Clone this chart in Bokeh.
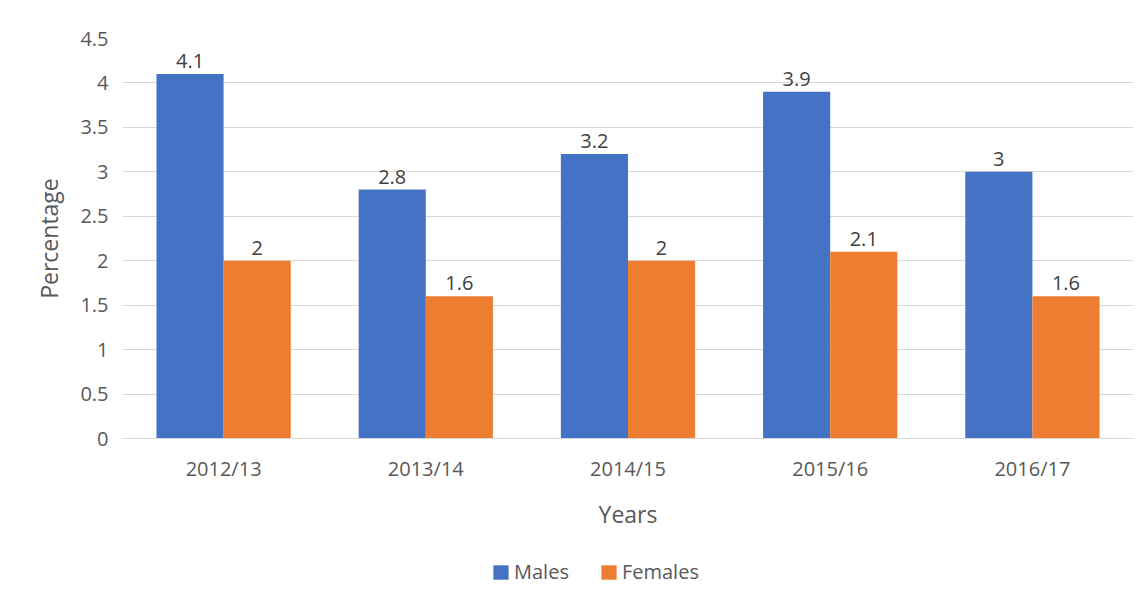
from bokeh.plotting import figure
from bokeh.layouts import column
from bokeh.models import ColumnDataSource, Legend, LegendItem, LabelSet, Range1d, FixedTicker, CustomJSTickFormatter
from bokeh.core.properties import value
from bokeh.transform import dodge
from bokeh.embed import file_html
from bokeh.resources import INLINE

years = ["2012/13", "2013/14", "2014/15", "2015/16", "2016/17"]
males = [4.1, 2.8, 3.2, 3.9, 3.0]
females = [2.0, 1.6, 2.0, 2.1, 1.6]
male_labels = ["4.1", "2.8", "3.2", "3.9", "3"]
female_labels = ["2", "1.6", "2", "2.1", "1.6"]
y_ticks = [0, 0.5, 1, 1.5, 2, 2.5, 3, 3.5, 4, 4.5]
series_names = ["Males", "Females"]

BLUE = "#4472C4"
ORANGE = "#ED7D31"
TEXT = "#595959"
FONT = "Open Sans"
W = 1137

src = ColumnDataSource(dict(years=years, males=males, females=females,
                            ml=male_labels, fl=female_labels))

p = figure(x_range=years, y_range=Range1d(0, 4.5), width=W, height=540,
           output_backend="svg", toolbar_location=None,
           min_border_left=122, min_border_right=4, min_border_top=38, min_border_bottom=102)

p.vbar(x=dodge("years", -0.166, range=p.x_range), top="males", width=0.332, source=src,
       fill_color=BLUE, line_color=None)
p.vbar(x=dodge("years", 0.166, range=p.x_range), top="females", width=0.332, source=src,
       fill_color=ORANGE, line_color=None)

for col, off in (("ml", -0.166), ("fl", 0.166)):
    top = "males" if col == "ml" else "females"
    p.add_layout(LabelSet(x=dodge("years", off, range=p.x_range), y=top, text=col, source=src,
                          text_align="center", text_baseline="bottom", y_offset=6,
                          text_font=value(FONT), text_font_size=value("20px"),
                          text_color="#404040"))

p.outline_line_color = None
p.xgrid.grid_line_color = None
p.ygrid.grid_line_color = "#d9d9d9"
p.ygrid.grid_line_width = 1
p.yaxis.ticker = FixedTicker(ticks=y_ticks)
p.yaxis.formatter = CustomJSTickFormatter(code="return String(tick);")
p.yaxis.axis_line_color = None
p.yaxis.major_tick_line_color = None
p.yaxis.minor_tick_line_color = None
p.yaxis.major_label_standoff = 8
p.yaxis.major_label_text_font = FONT
p.yaxis.major_label_text_font_size = "20px"
p.yaxis.major_label_text_color = TEXT
p.yaxis.axis_label = "Percentage"
p.yaxis.axis_label_text_font = FONT
p.yaxis.axis_label_text_font_size = "23px"
p.yaxis.axis_label_text_font_style = "normal"
p.yaxis.axis_label_text_color = TEXT
p.yaxis.axis_label_standoff = 12

p.xaxis.axis_line_color = "#d9d9d9"
p.xaxis.major_tick_line_color = None
p.xaxis.minor_tick_line_color = None
p.xaxis.major_label_standoff = 10
p.xaxis.major_label_text_font = FONT
p.xaxis.major_label_text_font_size = "20px"
p.xaxis.major_label_text_color = TEXT
p.xaxis.axis_label = "Years"
p.xaxis.axis_label_text_font = FONT
p.xaxis.axis_label_text_font_size = "23px"
p.xaxis.axis_label_text_font_style = "normal"
p.xaxis.axis_label_text_color = TEXT
p.xaxis.axis_label_standoff = 13

# legend strip below the chart (its frame is aligned with the chart's frame)
lf = figure(width=W, height=53, x_range=Range1d(0, 10), y_range=Range1d(0, 10),
            output_backend="svg", toolbar_location=None, x_axis_type=None, y_axis_type=None,
            min_border=0)
lf.outline_line_color = None
lf.xgrid.visible = False
lf.ygrid.visible = False
# off-range swatch renderers used only for the legend glyphs
r1 = lf.vbar(x=[-50], top=[-50], width=1, fill_color=BLUE, line_color=None)
r2 = lf.vbar(x=[-50], top=[-50], width=1, fill_color=ORANGE, line_color=None)
legend = Legend(items=[LegendItem(label=series_names[0], renderers=[r1]),
                       LegendItem(label=series_names[1], renderers=[r2])],
                orientation="horizontal", location=(369, 8), margin=0, padding=0,
                glyph_width=19, glyph_height=18, label_standoff=4, spacing=30,
                label_text_font=FONT, label_text_font_size="20px", label_text_color=TEXT,
                border_line_color=None, background_fill_alpha=0)
lf.add_layout(legend, "center")

layout = column(p, lf, spacing=0)
open("out.html", "w").write(file_html(layout, INLINE))
